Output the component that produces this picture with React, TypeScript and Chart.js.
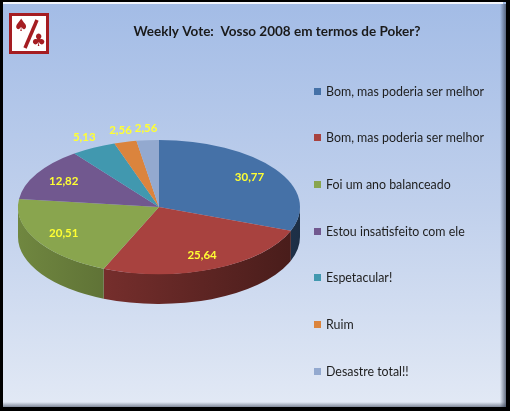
import React, { useEffect, useRef } from "react";
import { Chart, registerables } from "chart.js";

Chart.register(...registerables);

// ---- data ----
const titleText = "Weekly Vote:  Vosso 2008 em termos de Poker?";
const categories = [
  "Bom, mas poderia ser melhor",
  "Bom, mas poderia ser melhor",
  "Foi um ano balanceado",
  "Estou insatisfeito com ele",
  "Espetacular!",
  "Ruim",
  "Desastre total!!",
];
const values = [30.77, 25.64, 20.51, 12.82, 5.13, 2.56, 2.56];
const colors = ["#4571a7", "#a8423f", "#89a54e", "#71588f", "#4198af", "#db843d", "#93a9cf"];

const fmt = (v: number) => v.toFixed(2).replace(".", ",");

function shade(hex: string, f: number) {
  const n = parseInt(hex.slice(1), 16);
  const r = Math.round(((n >> 16) & 255) * f);
  const g = Math.round(((n >> 8) & 255) * f);
  const b = Math.round((n & 255) * f);
  return `rgb(${r},${g},${b})`;
}

const framePlugin = {
  id: "frame",
  beforeDraw(chart: any) {
    const ctx = chart.ctx as CanvasRenderingContext2D;
    const W = chart.width;
    const H = chart.height;
    ctx.save();
    ctx.fillStyle = "#ffffff";
    ctx.fillRect(0, 0, W, H);
    ctx.fillStyle = "#000000";
    ctx.fillRect(0, 0, W - 1, H - 2);
    // panel gradient
    const g = ctx.createLinearGradient(0, 2, 0, 407);
    g.addColorStop(0, "#a3bce6");
    g.addColorStop(0.5, "#c0d0ec");
    g.addColorStop(1, "#e2e9f5");
    ctx.fillStyle = g;
    ctx.fillRect(3, 2, 503, 405);
    // top highlight
    ctx.fillStyle = "rgba(255,255,255,0.85)";
    ctx.fillRect(3, 2, 500, 2);
    // right shadow
    const gr = ctx.createLinearGradient(500, 0, 506, 0);
    gr.addColorStop(0, "rgba(60,70,90,0)");
    gr.addColorStop(1, "rgba(60,70,90,0.75)");
    ctx.fillStyle = gr;
    ctx.fillRect(500, 4, 6, 403);
    // bottom shadow
    const gb = ctx.createLinearGradient(0, 402, 0, 407);
    gb.addColorStop(0, "rgba(60,70,90,0)");
    gb.addColorStop(1, "rgba(60,70,90,0.6)");
    ctx.fillStyle = gb;
    ctx.fillRect(3, 402, 503, 5);

    // logo
    ctx.fillStyle = "#ffffff";
    ctx.fillRect(9, 13, 40, 41);
    ctx.strokeStyle = "#a51d22";
    ctx.lineWidth = 3;
    ctx.strokeRect(10.5, 14.5, 37, 38);
    ctx.lineWidth = 3.5;
    ctx.beginPath();
    ctx.moveTo(37, 20);
    ctx.lineTo(25, 48);
    ctx.stroke();
    ctx.fillStyle = "#a51d22";
    ctx.textAlign = "center";
    ctx.textBaseline = "middle";
    ctx.font = "17px 'DejaVu Sans'";
    ctx.fillText("\u2660", 21, 27);
    ctx.fillText("\u2663", 38.5, 42);

    // title
    ctx.fillStyle = "#1a1a1a";
    ctx.font = "bold 13.5px Lato";
    ctx.fillText(titleText, 277, 32);
    ctx.restore();
  },
};

const pie3dPlugin = {
  id: "pie3d",
  beforeDatasetsDraw(chart: any, _args: any, opts: any) {
    const ctx = chart.ctx as CanvasRenderingContext2D;
    const arcs = chart.getDatasetMeta(0).data as any[];
    if (!arcs.length) return;
    const cx = arcs[0].x;
    const cy0 = arcs[0].y;
    const r = arcs[0].outerRadius;
    const ry = r * opts.tilt;
    const cy = opts.centerY;
    const depth = opts.depth;
    ctx.save();
    arcs.forEach((arc, i) => {
      const s = Math.max(arc.startAngle, 0);
      const e = Math.min(arc.endAngle, Math.PI);
      if (e <= s) return;
      const col = colors[i];
      const grad = ctx.createLinearGradient(cx - r, 0, cx + r, 0);
      grad.addColorStop(0, shade(col, 0.82));
      grad.addColorStop(0.5, shade(col, 0.62));
      grad.addColorStop(1, shade(col, 0.42));
      ctx.beginPath();
      ctx.ellipse(cx, cy, r, ry, 0, s, e, false);
      ctx.ellipse(cx, cy + depth, r, ry, 0, e, s, true);
      ctx.closePath();
      ctx.fillStyle = grad;
      ctx.fill();
    });
    ctx.restore();
    ctx.save();
    ctx.translate(0, cy);
    ctx.scale(1, opts.tilt);
    ctx.translate(0, -cy0);
  },
  afterDatasetsDraw(chart: any, _args: any, opts: any) {
    const ctx = chart.ctx as CanvasRenderingContext2D;
    ctx.restore();
    const arcs = chart.getDatasetMeta(0).data as any[];
    if (!arcs.length) return;
    const cx = arcs[0].x;
    const r = arcs[0].outerRadius;
    const ry = r * opts.tilt;
    const cy = opts.centerY;
    ctx.save();
    ctx.font = "bold 11.5px Lato";
    ctx.fillStyle = "#ffff33";
    ctx.textAlign = "center";
    ctx.textBaseline = "middle";
    arcs.forEach((arc, i) => {
      const mid = (arc.startAngle + arc.endAngle) / 2;
      const c = Math.cos(mid);
      const sn = Math.sin(mid);
      let x: number, y: number;
      if (values[i] >= 6) {
        x = cx + 0.78 * r * c;
        y = cy + 0.78 * ry * sn;
      } else {
        x = cx + r * c + c * 20;
        y = cy + ry * sn + sn * 12;
      }
      ctx.fillText(fmt(values[i]), x, y);
    });
    ctx.restore();
  },
};

const legendPlugin = {
  id: "sideLegend",
  afterDraw(chart: any, _args: any, opts: any) {
    const ctx = chart.ctx as CanvasRenderingContext2D;
    ctx.save();
    ctx.font = "12.4px Lato";
    ctx.textBaseline = "middle";
    ctx.textAlign = "left";
    categories.forEach((label, i) => {
      const y = opts.y + i * opts.step;
      ctx.fillStyle = colors[i];
      ctx.fillRect(opts.x, Math.round(y - 3.5), 7, 7);
      ctx.fillStyle = "#1e1e1e";
      ctx.fillText(label, opts.x + 12, y + 0.5);
    });
    ctx.restore();
  },
};

export default function App() {
  const ref = useRef<HTMLCanvasElement | null>(null);
  useEffect(() => {
    document.body.style.margin = "0";
    const canvas = ref.current!;
    const chart = new Chart(canvas, {
      type: "pie",
      data: {
        labels: categories,
        datasets: [
          {
            data: values,
            backgroundColor: colors,
            borderWidth: 0,
          },
        ],
      },
      options: {
        animation: false,
        responsive: false,
        events: [],
        layout: { padding: { left: 18, right: 211, top: 66, bottom: 65 } },
        plugins: {
          legend: { display: false },
          title: { display: false },
          tooltip: { enabled: false },
          pie3d: { tilt: 67 / 141, depth: 30, centerY: 207 },
          sideLegend: { x: 314, y: 91, step: 46.7 },
        } as any,
      },
      plugins: [framePlugin, pie3dPlugin, legendPlugin],
    });
    return () => chart.destroy();
  }, []);
  return (
    <div style={{ position: "absolute", left: 0, top: 0, width: 511, height: 413 }}>
      <canvas ref={ref} width={511} height={413} style={{ display: "block" }} />
    </div>
  );
}
